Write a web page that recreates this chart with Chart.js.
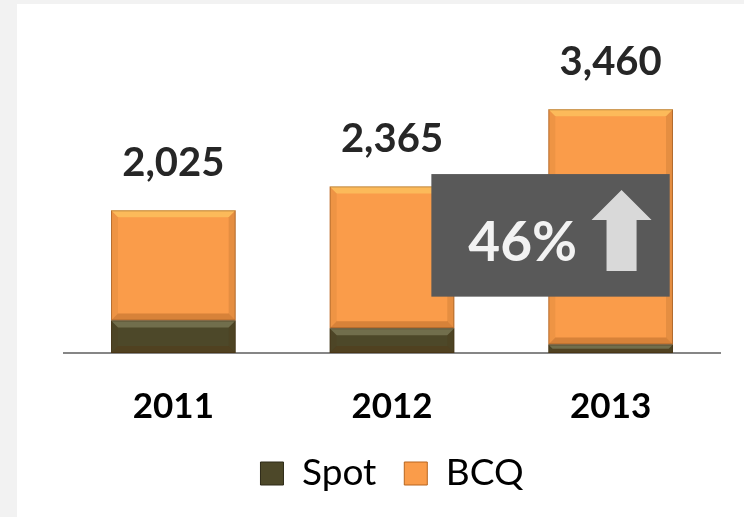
<!DOCTYPE html>
<html>
<head>
<meta charset="utf-8">
<script src="https://cdn.jsdelivr.net/npm/chart.js@4.4.1/dist/chart.umd.min.js"></script>
<style>
html,body{margin:0;padding:0;background:#f2f2f2;}
#wrap{position:absolute;left:0;top:0;width:744px;height:517px;}
</style>
</head>
<body>
<div id="wrap"><canvas id="c" width="744" height="517"></canvas></div>
<script>
// ---- data ----
const categories = ['2011', '2012', '2013'];
const spotValues = [460, 350, 120];
const bcqValues = [1565, 2015, 3340];
const totalLabels = ['2,025', '2,365', '3,460'];
const growthLabel = '46%';
// growth callout placed in data space (category index / value units)
const calloutX = [1.18, 2.27];
const calloutY = [800, 2540];

const ORANGE = '#FA9C4A';
const OLIVE = '#4D4829';

const bgPlugin = {
  id: 'bg',
  beforeDraw(chart) {
    const ctx = chart.ctx;
    ctx.save();
    ctx.fillStyle = '#f2f2f2';
    ctx.fillRect(0, 0, chart.width, chart.height);
    ctx.fillStyle = '#ffffff';
    ctx.fillRect(17, 4, chart.width - 17, chart.height - 4);
    ctx.restore();
  }
};

const bevelPlugin = {
  id: 'bevel',
  afterDatasetsDraw(chart) {
    const ctx = chart.ctx;
    chart.data.datasets.forEach((ds, di) => {
      const meta = chart.getDatasetMeta(di);
      meta.data.forEach(bar => {
        const l = bar.x - bar.width / 2, r = bar.x + bar.width / 2;
        const t = Math.min(bar.y, bar.base), b = Math.max(bar.y, bar.base);
        const h = b - t;
        const s = Math.min(7, h / 2);
        ctx.save();
        // top highlight
        ctx.beginPath();
        ctx.moveTo(l, t); ctx.lineTo(r, t); ctx.lineTo(r - s, t + s); ctx.lineTo(l + s, t + s); ctx.closePath();
        ctx.fillStyle = di === 0 ? 'rgba(200,200,160,0.3)' : 'rgba(255,225,110,0.45)';
        ctx.fill();
        // bottom shade
        ctx.beginPath();
        ctx.moveTo(l, b); ctx.lineTo(r, b); ctx.lineTo(r - s, b - s); ctx.lineTo(l + s, b - s); ctx.closePath();
        ctx.fillStyle = 'rgba(90,40,0,0.22)';
        ctx.fill();
        // sides
        ctx.beginPath();
        ctx.moveTo(l, t); ctx.lineTo(l + s, t + s); ctx.lineTo(l + s, b - s); ctx.lineTo(l, b); ctx.closePath();
        ctx.fillStyle = 'rgba(80,40,0,0.07)';
        ctx.fill();
        ctx.beginPath();
        ctx.moveTo(r, t); ctx.lineTo(r - s, t + s); ctx.lineTo(r - s, b - s); ctx.lineTo(r, b); ctx.closePath();
        ctx.fillStyle = 'rgba(80,40,0,0.12)';
        ctx.fill();
        ctx.strokeStyle = 'rgba(60,30,0,0.3)';
        ctx.lineWidth = 1;
        ctx.strokeRect(l + 0.5, t + 0.5, bar.width - 1, h - 1);
        ctx.restore();
      });
    });
  }
};

const labelPlugin = {
  id: 'totals',
  afterDatasetsDraw(chart) {
    const ctx = chart.ctx;
    const meta = chart.getDatasetMeta(chart.data.datasets.length - 1);
    ctx.save();
    ctx.font = 'bold 40px Lato';
    ctx.fillStyle = '#262626';
    ctx.textAlign = 'center';
    ctx.textBaseline = 'alphabetic';
    meta.data.forEach((bar, i) => {
      ctx.fillText(totalLabels[i], bar.x, bar.y - 34);
    });
    ctx.restore();
  }
};

const calloutPlugin = {
  id: 'callout',
  afterDraw(chart) {
    const xs = chart.scales.x, ys = chart.scales.y;
    const ctx = chart.ctx;
    const x0 = xs.getPixelForValue(calloutX[0]);
    const x1 = xs.getPixelForValue(calloutX[1]);
    const y0 = ys.getPixelForValue(calloutY[1]);
    const y1 = ys.getPixelForValue(calloutY[0]);
    const w = x1 - x0, h = y1 - y0;
    ctx.save();
    ctx.fillStyle = '#595959';
    ctx.fillRect(x0, y0, w, h);
    ctx.font = 'bold 55px Lato';
    ctx.fillStyle = '#f2f2f2';
    ctx.textAlign = 'left';
    ctx.textBaseline = 'alphabetic';
    ctx.fillText(growthLabel, x0 + w * 0.155, y0 + h * 0.71);
    // arrow
    const ax = x0 + w * 0.672, aw = w * 0.252;
    const sx = x0 + w * 0.735, sw = w * 0.126;
    const top = y0 + h * 0.13, hb = y0 + h * 0.375, bot = y0 + h * 0.79;
    ctx.fillStyle = '#d9d9d9';
    ctx.beginPath();
    ctx.moveTo(ax + aw / 2, top);
    ctx.lineTo(ax + aw, hb);
    ctx.lineTo(sx + sw, hb);
    ctx.lineTo(sx + sw, bot);
    ctx.lineTo(sx, bot);
    ctx.lineTo(sx, hb);
    ctx.lineTo(ax, hb);
    ctx.closePath();
    ctx.fill();
    ctx.restore();
  }
};

new Chart(document.getElementById('c'), {
  type: 'bar',
  data: {
    labels: categories,
    datasets: [
      { label: 'Spot', data: spotValues, backgroundColor: OLIVE, borderWidth: 0 },
      { label: 'BCQ', data: bcqValues, backgroundColor: ORANGE, borderWidth: 0 }
    ]
  },
  options: {
    responsive: false,
    animation: false,
    devicePixelRatio: 1,
    layout: { padding: { left: 64, right: 24, top: 36, bottom: 15 } },
    datasets: { bar: { categoryPercentage: 1, barPercentage: 0.57 } },
    scales: {
      x: {
        stacked: true,
        grid: { display: false, drawTicks: false },
        border: { display: true, color: '#868686', width: 2 },
        ticks: { color: '#000', font: { family: 'Lato', size: 35, weight: 'bold' }, padding: 33 },
        afterFit(scale) { scale.height -= 34; }
      },
      y: {
        stacked: true,
        display: false,
        min: 0, max: 4500
      }
    },
    plugins: {
      legend: {
        position: 'bottom',
        labels: {
          color: '#000',
          font: { family: 'Lato', size: 37 },
          boxWidth: 23, boxHeight: 23, padding: 28,
          generateLabels(chart) {
            return chart.data.datasets.map((ds, i) => ({
              text: ds.label, fillStyle: ds.backgroundColor,
              strokeStyle: i === 0 ? '#2e2b18' : '#b8651e', lineWidth: 1,
              datasetIndex: i, hidden: false
            }));
          }
        }
      },
      tooltip: { enabled: false }
    }
  },
  plugins: [bgPlugin, bevelPlugin, labelPlugin, calloutPlugin]
});
</script>
</body>
</html>
